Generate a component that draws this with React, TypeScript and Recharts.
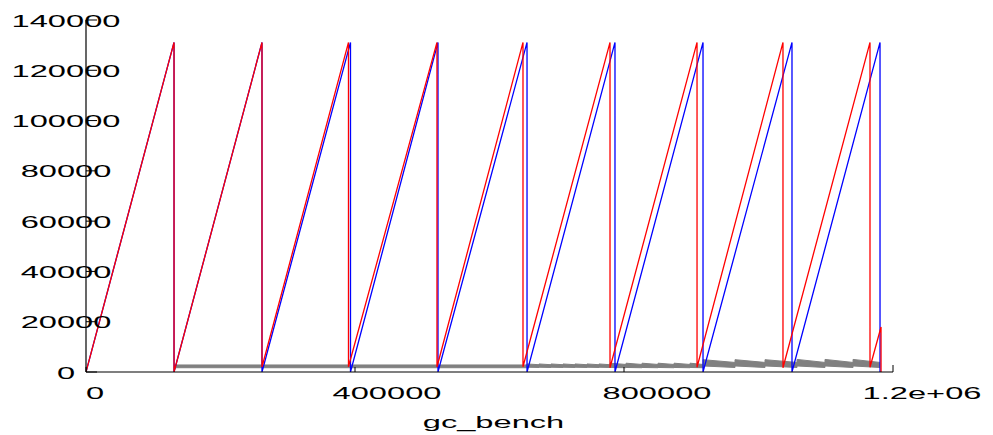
import React from 'react';
import { ComposedChart, Line, Area, XAxis, YAxis, Label } from 'recharts';

// ---- axes ----
const xTicks = [0, 400000, 800000, 1200000];
const xTickLabels = ['0', '400000', '800000', '1.2e+06'];
const xTickShift = [9, 32, 33, 29];
const yTicks = [0, 20000, 40000, 60000, 80000, 100000, 120000, 140000];
const xTitle = 'gc_bench';

// ---- red series (sawtooth) ----
const redX = [0, 130900, 130900, 261700, 261700, 390300, 390300, 521900, 521900, 649800, 649800, 779200, 779200, 908600, 908600, 1036400, 1036400, 1165800, 1165800, 1182200, 1182200];
const redY = [0, 131072, 0, 131072, 2000, 131072, 2100, 131072, 2000, 131072, 2100, 131072, 1700, 131072, 1900, 131072, 1700, 131072, 1900, 17900, 0];

// ---- blue series (sawtooth) ----
const blueX = [0, 130900, 130900, 261700, 261700, 393300, 393300, 523400, 523400, 655800, 655800, 786600, 786600, 917500, 917500, 1049800, 1049800, 1180700, 1180700];
const blueY = [0, 131072, 0, 131072, 0, 131072, 0, 131072, 0, 131072, 0, 131072, 0, 131072, 0, 131072, 0, 131072, 0];

// ---- gray band (low / high) ----
const grayX = [
  130900, 655800,
  655800, 673600, 673600, 691500, 691500, 709300, 709300, 727100, 727100, 745000, 745000, 762800, 762800, 779200,
  779200, 803000, 803000, 826800, 826800, 850600, 850600, 874400, 874400, 898200, 898200, 917500,
  917500, 965100, 965100, 1009700, 1009700, 1057300, 1057300, 1098900, 1098900, 1140600, 1140600, 1180700,
];
const grayLo = [
  1700, 1700,
  1900, 1800, 1900, 1800, 1900, 1800, 1900, 1800, 1900, 1800, 1900, 1800, 1900, 1800,
  1800, 1700, 1800, 1700, 1800, 1700, 1800, 1700, 1800, 1700, 1800, 1700,
  2400, 1800, 2400, 1800, 2400, 1800, 2400, 1800, 2400, 1800, 2400, 1800,
];
const grayHi = [
  2800, 2800,
  3200, 2900, 3200, 2900, 3200, 2900, 3200, 2900, 3200, 2900, 3200, 2900, 3200, 2900,
  3500, 3000, 3500, 3000, 3500, 3000, 3500, 3000, 3500, 3000, 3500, 3000,
  4900, 3800, 4900, 3800, 4900, 3800, 5000, 3800, 5000, 3800, 5000, 3800,
];

const redData = redX.map((x, i) => ({ x, v: redY[i] }));
const blueData = blueX.map((x, i) => ({ x, v: blueY[i] }));
const grayData = grayX.map((x, i) => ({ x, band: [grayLo[i], grayHi[i]] }));

const FONT = 'Liberation Sans, Arial, Helvetica, sans-serif';
const SX = 1.92;

const XTick = (props: any) => {
  const { x, y, index } = props;
  const last = index === xTicks.length - 1;
  return (
    <g>
      <line x1={x} x2={x} y1={y - (last ? 7 : 5)} y2={y} stroke="#000" strokeWidth={1} />
      <text
        transform={`translate(${x + xTickShift[index]},${y + 27}) scale(${SX},1)`}
        textAnchor="middle"
        fontSize={17}
        fontFamily={FONT}
        fill="#000"
      >
        {xTickLabels[index]}
      </text>
    </g>
  );
};

const YTick = (props: any) => {
  const { x, y, payload } = props;
  return (
    <g>
      <line x1={x + 20} x2={x + 31} y1={y} y2={y} stroke="#000" strokeWidth={1} />
      <text
        transform={`translate(${x},${y + 6.5}) scale(${SX},1)`}
        textAnchor="middle"
        fontSize={17}
        fontFamily={FONT}
        fill="#000"
      >
        {String(payload.value)}
      </text>
    </g>
  );
};

const XTitle = (props: any) => {
  const vb = props.viewBox || { x: 86, y: 372, width: 807, height: 63 };
  return (
    <text
      transform={`translate(${vb.x + vb.width / 2 + 4},${vb.y + 56}) scale(${SX},1)`}
      textAnchor="middle"
      fontSize={17}
      fontFamily={FONT}
      fill="#000"
    >
      {xTitle}
    </text>
  );
};

export default function App() {
  return (
    <div style={{ position: 'absolute', left: 0, top: 0, background: '#fff' }}>
      <ComposedChart width={993} height={435} margin={{ top: 20, right: 100, left: 0, bottom: 0 }}>
        <XAxis
          type="number"
          dataKey="x"
          domain={[0, 1200000]}
          ticks={xTicks}
          interval={0}
          allowDataOverflow
          height={63}
          tickSize={0}
          tickMargin={0}
          tickLine={false}
          axisLine={{ stroke: '#000', strokeWidth: 1.2 }}
          tick={(p: any) => <XTick {...p} />}
        >
          <Label content={(p: any) => <XTitle {...p} />} />
        </XAxis>
        <YAxis
          type="number"
          domain={[0, 140000]}
          ticks={yTicks}
          interval={0}
          allowDataOverflow
          width={86}
          tickSize={0}
          tickMargin={20}
          tickLine={false}
          axisLine={{ stroke: '#000', strokeWidth: 1.2 }}
          tick={(p: any) => <YTick {...p} />}
        />
        <Area
          data={grayData}
          dataKey="band"
          type="linear"
          stroke="#808080"
          strokeWidth={1}
          fill="#808080"
          fillOpacity={1}
          dot={false}
          activeDot={false}
          isAnimationActive={false}
        />
        <Line
          data={blueData}
          dataKey="v"
          type="linear"
          stroke="#0000ff"
          strokeWidth={1.3}
          dot={false}
          activeDot={false}
          isAnimationActive={false}
        />
        <Line
          data={redData}
          dataKey="v"
          type="linear"
          stroke="#ff0000"
          strokeWidth={1.3}
          dot={false}
          activeDot={false}
          isAnimationActive={false}
        />
      </ComposedChart>
    </div>
  );
}
